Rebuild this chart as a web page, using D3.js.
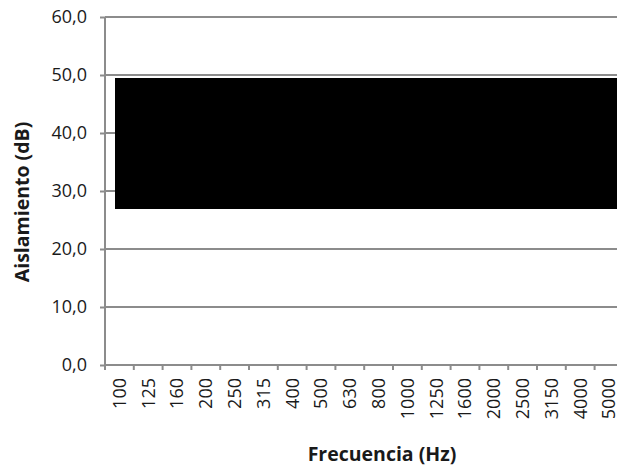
<!DOCTYPE html>
<html>
<head>
<meta charset="utf-8">
<script src="https://cdn.jsdelivr.net/npm/d3@7"></script>
<style>
  body { margin: 0; background: #fff; }
  svg { display: block; font-family: "Open Sans", sans-serif; }
</style>
</head>
<body>
<div id="chart"></div>
<script>
// DATA
let FREQS = ["100", "125", "160", "200", "250", "315", "400", "500", "630", "800",
    "1000", "1250", "1600", "2000", "2500", "3150", "4000", "5000"]
let LOW = [26.9, 26.9, 26.9, 26.9, 26.9, 26.9, 26.9, 26.9, 26.9, 26.9,
    26.9, 26.9, 26.9, 26.9, 26.9, 26.9, 26.9, 26.9]
let HIGH = [49.5, 49.5, 49.5, 49.5, 49.5, 49.5, 49.5, 49.5, 49.5, 49.5,
    49.5, 49.5, 49.5, 49.5, 49.5, 49.5, 49.5, 49.5]
let Y_TICKS = [0, 10, 20, 30, 40, 50, 60]

let width = 617, height = 470
let margin = { left: 105, top: 17 }
let plotW = 518.4, plotH = 348
let gridColor = "#8c8c8c"

let svg = d3.select("#chart")
    .append("svg")
    .attr("width", width)
    .attr("height", height)

let g = svg.append("g")
    .attr("transform", "translate(" + margin.left + "," + margin.top + ")")

let x = d3.scaleBand()
    .domain(FREQS)
    .range([0, plotW])
    .padding(0)

let y = d3.scaleLinear()
    .domain([0, 60])
    .range([plotH, 0])

// gridlines
g.selectAll("grid")
    .data(Y_TICKS.filter(function (d) { return d > 0 }))
    .enter()
    .append("line")
    .attr("x1", 0)
    .attr("x2", plotW)
    .attr("y1", function (d) { return y(d) })
    .attr("y2", function (d) { return y(d) })
    .attr("stroke", gridColor)
    .attr("stroke-width", 2)

// black band between low and high series
let bandData = FREQS.map(function (f, i) { return { f: f, low: LOW[i], high: HIGH[i] } })
let startInset = 10
let areaPts = bandData.map(function (d, i) {
    return { x: x(d.f) + (i === 0 ? startInset : 0), low: d.low, high: d.high }
})
let last = bandData[bandData.length - 1]
areaPts.push({ x: x(last.f) + x.bandwidth(), low: last.low, high: last.high })

let area = d3.area()
    .curve(d3.curveStepAfter)
    .x(function (d) { return d.x })
    .y0(function (d) { return y(d.low) })
    .y1(function (d) { return y(d.high) })

g.append("path")
    .datum(areaPts)
    .attr("d", area)
    .attr("fill", "#000")

// Y axis
let yAxis = g.append("g")
    .call(d3.axisLeft(y)
        .tickValues(Y_TICKS)
        .tickSize(5)
        .tickPadding(13)
        .tickFormat(function (d) { return d3.format(".1f")(d).replace(".", ",") }))
yAxis.select(".domain").attr("stroke", gridColor).attr("stroke-width", 2)
    .attr("d", "M0," + (plotH + 5) + "V0")
yAxis.selectAll(".tick line").attr("stroke", gridColor).attr("stroke-width", 2)
yAxis.selectAll(".tick text")
    .style("font-size", "18px")
    .style("fill", "#1a1a1a")
    .style("font-family", "Open Sans")

// X axis
let xAxis = g.append("g")
    .attr("transform", "translate(0," + plotH + ")")
    .call(d3.axisBottom(x).tickSize(0).tickPadding(0))
xAxis.select(".domain").attr("stroke", gridColor).attr("stroke-width", 2)
    .attr("d", "M0,0H" + plotW)
xAxis.selectAll(".tick text")
    .attr("transform", "rotate(-90)")
    .attr("x", -13)
    .attr("y", 0)
    .attr("dy", "0.36em")
    .attr("text-anchor", "end")
    .style("font-size", "18px")
    .style("fill", "#1a1a1a")
    .style("font-family", "Open Sans")

// tick marks on category boundaries
g.selectAll("xticks")
    .data(FREQS)
    .enter()
    .append("line")
    .attr("x1", function (d) { return x(d) + x.bandwidth() })
    .attr("x2", function (d) { return x(d) + x.bandwidth() })
    .attr("y1", plotH)
    .attr("y2", plotH + 5)
    .attr("stroke", gridColor)
    .attr("stroke-width", 2)

// titles
svg.append("text")
    .attr("transform", "translate(29," + 202 + ") rotate(-90)")
    .attr("text-anchor", "middle")
    .style("font-size", "19.5px")
    .style("font-weight", "bold")
    .style("fill", "#1a1a1a")
    .text("Aislamiento (dB)")

svg.append("text")
    .attr("x", 382)
    .attr("y", 461)
    .attr("text-anchor", "middle")
    .style("font-size", "19.5px")
    .style("font-weight", "bold")
    .style("fill", "#1a1a1a")
    .text("Frecuencia (Hz)")
</script>
</body>
</html>
